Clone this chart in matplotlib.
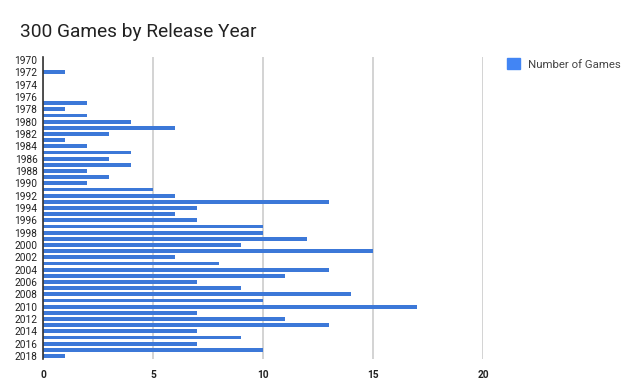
import matplotlib.pyplot as plt
import numpy as np

years = list(range(1970, 2019))
games = [0, 0, 1, 0, 0, 0, 0, 2, 1, 2,
         4, 6, 3, 1, 2, 4, 3, 4, 2, 3,
         2, 5, 6, 13, 7, 6, 7, 10, 10, 12,
         9, 15, 6, 8, 13, 11, 7, 9, 14, 10,
         17, 7, 11, 13, 7, 9, 7, 10, 1]
bar_color = '#3c78d8'

plt.rcParams['font.family'] = ['Roboto', 'DejaVu Sans']

fig = plt.figure(figsize=(6.4, 3.87), dpi=100)
ax = fig.add_axes([43 / 640, 1 - 359 / 387, (483 - 43) / 640, (359 - 57) / 387])

pos = np.arange(len(years))
ax.barh(pos, games, height=0.62, color=bar_color, label='Number of Games', zorder=3)

ax.set_ylim(len(years) - 0.5, -0.5)
ax.set_yticks(pos[::2])
ax.set_yticklabels([str(y) for y in years[::2]], fontsize=7.3, color='#222222')
ax.set_xlim(0, 20)
ax.set_xticks([0, 5, 10, 15, 20])
ax.set_xticklabels(['0', '5', '10', '15', '20'], fontsize=7.3, fontweight='bold', color='#222222')
ax.tick_params(length=0, pad=4)
ax.tick_params(axis='x', pad=8)

ax.grid(axis='x', color='#cccccc', linewidth=1.2, zorder=0)
for s in ['top', 'right', 'bottom']:
    ax.spines[s].set_visible(False)
ax.spines['left'].set_color('#333333')
ax.spines['left'].set_linewidth(1.2)
ax.spines['left'].set_zorder(4)

fig.text(20 / 640, 1 - 32 / 387, '300 Games by Release Year', fontsize=13.8, color='#222222', va='center')

leg = fig.legend(loc='center left', bbox_to_anchor=(497 / 640, 1 - 64 / 387), frameon=False,
                 fontsize=8.2, handlelength=1.1, handleheight=1.1, handletextpad=0.7,
                 labelcolor='#444444')
leg.legend_handles[0].set_color('#4285f4')

fig.savefig('out.png', dpi=100)
